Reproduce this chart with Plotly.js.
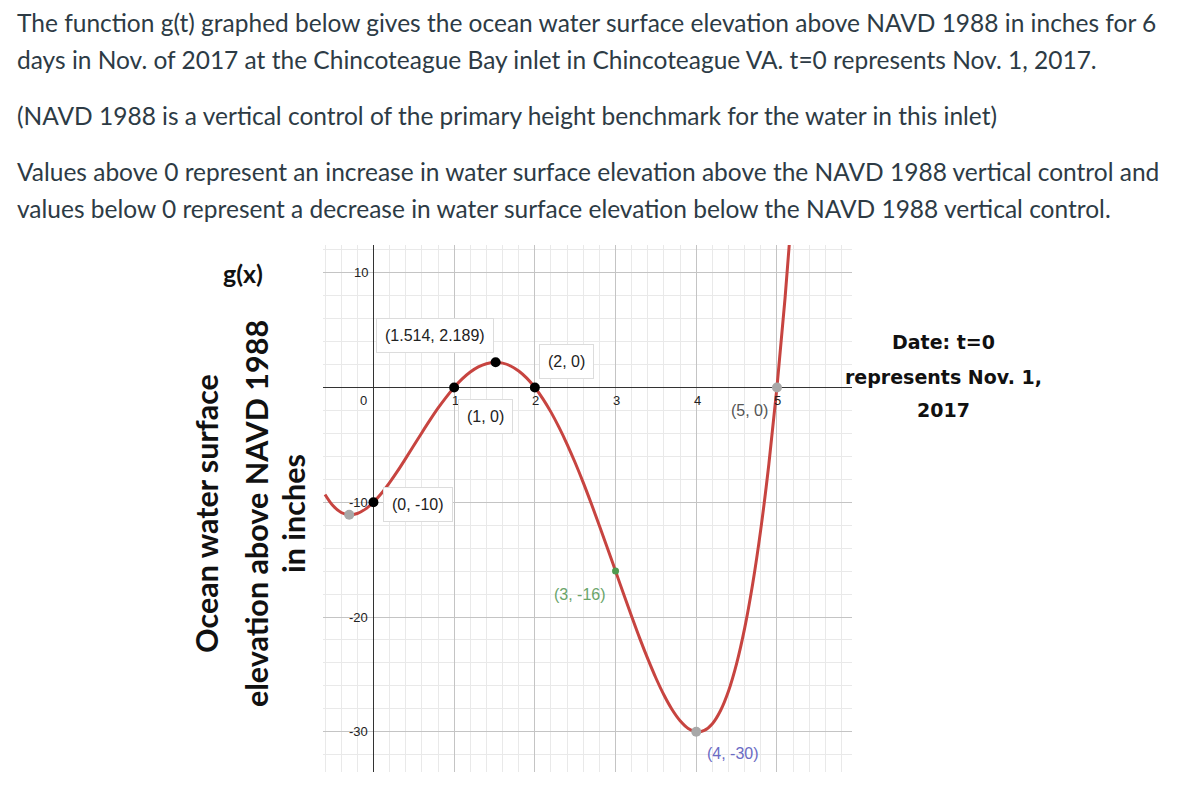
<!DOCTYPE html>
<html>
<head>
<meta charset="utf-8">
<script src="https://cdn.plot.ly/plotly-3.0.1.min.js"></script>
<style>
  html, body { margin: 0; padding: 0; background: #fff; }
  #chart { width: 1200px; height: 811px; }
</style>
</head>
<body>
<div id="chart"></div>
<script>
// ---- Data ----
const curveT = [-0.6,-0.5,-0.4,-0.3,-0.2,-0.1,0,0.1,0.2,0.3,0.4,0.5,0.6,0.7,0.8,0.9,1,1.1,1.2,1.3,1.4,1.5,1.6,1.7,1.8,1.9,2,2.1,2.2,2.3,2.4,2.5,2.6,2.7,2.8,2.9,3,3.1,3.2,3.3,3.4,3.5,3.6,3.7,3.8,3.9,4,4.1,4.2,4.3,4.4,4.5,4.6,4.7,4.8,4.9,5,5.1,5.2];
const curveG = [-9.32,-10.31,-10.89,-11.09,-10.98,-10.60,-10,-9.22,-8.29,-7.27,-6.18,-5.06,-3.94,-2.85,-1.81,-0.86,0,0.74,1.34,1.79,2.07,2.19,2.12,1.87,1.43,0.81,0,-0.99,-2.15,-3.48,-4.95,-6.56,-8.29,-10.13,-12.04,-14.0,-16,-18.0,-19.96,-21.86,-23.65,-25.31,-26.79,-28.05,-29.03,-29.70,-30,-29.88,-29.29,-28.16,-26.44,-24.06,-20.97,-17.08,-12.34,-6.67,0,7.75,16.67];

const blackT = [0, 1, 1.514, 2];
const blackG = [-10, 0, 2.189, 0];
const greyT = [-0.3, 5, 4];
const greyG = [-11.09, 0, -30];
const greenT = [3];
const greenG = [-16];

const xTickVals = [0, 1, 2, 3, 4, 5];
const xTickText = ['0', '1', '2', '3', '4', '5'];
const yTickVals = [10, -10, -20, -30];
const yTickText = ['10', '-10', '-20', '-30'];

const introLines = [
  'The function g(t) graphed below gives the ocean water surface elevation above NAVD 1988 in inches for 6',
  'days in Nov. of 2017 at the Chincoteague Bay inlet in Chincoteague VA. t=0 represents Nov. 1, 2017.',
  '(NAVD 1988 is a vertical control of the primary height benchmark for the water in this inlet)',
  'Values above 0 represent an increase in water surface elevation above the NAVD 1988 vertical control and',
  'values below 0 represent a decrease in water surface elevation below the NAVD 1988 vertical control.'
];
const introY = [22, 60, 115, 171, 209];
const yTitleLines = ['Ocean water surface', 'elevation above NAVD 1988', 'in inches'];
const dateLines = ['Date: t=0', 'represents Nov. 1,', '2017'];

// ---- Layout helpers (page pixels -> paper coords) ----
const PL = 323, PR = 852, PT = 245, PB = 772;
const px = v => (v - PL) / (PR - PL);
const py = v => (PB - v) / (PB - PT);

const annotations = [];

// intro paragraphs
introLines.forEach((t, i) => annotations.push({
  xref: 'paper', yref: 'paper', x: px(15), y: py(introY[i]),
  xanchor: 'left', yanchor: 'middle', showarrow: false, align: 'left',
  text: t, font: {family: 'Lato', size: 24.5, color: '#2d3b45'}
}));

// y title pieces
annotations.push({
  xref: 'paper', yref: 'paper', x: px(243), y: py(273), showarrow: false,
  xanchor: 'center', yanchor: 'middle', text: '<b>g(x)</b>',
  font: {family: 'Lato', size: 25, color: '#111'}
});
const yTitleX = [206, 256, 293];
yTitleLines.forEach((t, i) => annotations.push({
  xref: 'paper', yref: 'paper', x: px(yTitleX[i]), y: py(514), showarrow: false,
  xanchor: 'center', yanchor: 'middle', textangle: -90, text: '<b>' + t + '</b>',
  font: {family: 'Lato', size: 30.5, color: '#111'}
}));

// date note
const dateY = [342, 377, 410];
dateLines.forEach((t, i) => annotations.push({
  xref: 'paper', yref: 'paper', x: px(943), y: py(dateY[i]), showarrow: false,
  xanchor: 'center', yanchor: 'middle', text: '<b>' + t + '</b>',
  font: {family: 'DejaVu Sans', size: 19, color: '#111'}
}));

// axis tick labels (Desmos style, beside the axes)
xTickVals.forEach((v, i) => annotations.push({
  xref: 'x', yref: 'y', x: v, y: 0, showarrow: false,
  xanchor: 'center', yanchor: 'top', xshift: v === 0 ? -10 : 1, yshift: -4,
  text: xTickText[i], font: {family: 'Arial', size: 13, color: '#222'}
}));
yTickVals.forEach((v, i) => annotations.push({
  xref: 'x', yref: 'y', x: 0, y: v, showarrow: false,
  xanchor: 'right', yanchor: 'middle', xshift: -3,
  text: yTickText[i], font: {family: 'Arial', size: 13, color: '#222'}
}));

// point labels
const fmt = (x, y) => '(' + x + ', ' + y + ')';
const boxed = {bgcolor: '#ffffff', bordercolor: '#dcdcdc', borderwidth: 1, borderpad: 8};
const pointLabels = [
  {x: blackT[2], y: blackG[2], dx: -61, dy: 27, color: '#222', box: true},
  {x: blackT[3], y: blackG[3], dx: 32, dy: 26, color: '#222', box: true},
  {x: blackT[1], y: blackG[1], dx: 31, dy: -29, color: '#222', box: true},
  {x: blackT[0], y: blackG[0], dx: 45, dy: -2, color: '#222', box: true},
  {x: greyT[1], y: greyG[1], dx: -27, dy: -23, color: '#555', box: false},
  {x: greenT[0], y: greenG[0], dx: -36, dy: -23, color: '#6aa56a', box: false},
  {x: greyT[2], y: greyG[2], dx: 37, dy: -22, color: '#6b6bc4', box: false}
];
pointLabels.forEach(p => annotations.push(Object.assign({
  xref: 'x', yref: 'y', x: p.x, y: p.y, showarrow: false,
  xanchor: 'center', yanchor: 'middle', xshift: p.dx, yshift: p.dy,
  text: fmt(p.x, p.y), font: {family: 'Arial', size: 16, color: p.color}
}, p.box ? boxed : {})));

const traces = [
  {x: curveT, y: curveG, type: 'scatter', mode: 'lines', line: {color: '#c74440', width: 3, shape: 'spline'}, hoverinfo: 'skip'},
  {x: greyT, y: greyG, type: 'scatter', mode: 'markers', marker: {color: '#a8a8a8', size: 10}, hoverinfo: 'skip'},
  {x: greenT, y: greenG, type: 'scatter', mode: 'markers', marker: {color: '#4f9a4f', size: 7}, hoverinfo: 'skip'},
  {x: blackT, y: blackG, type: 'scatter', mode: 'markers', marker: {color: '#000000', size: 10}, hoverinfo: 'skip'}
];

const layout = {
  width: 1200, height: 811,
  margin: {l: PL, r: 1200 - PR, t: PT, b: 811 - PB, pad: 0},
  paper_bgcolor: '#ffffff', plot_bgcolor: '#ffffff',
  showlegend: false,
  xaxis: {
    range: [-0.625, 5.93], dtick: 1, tick0: 0,
    showgrid: true, gridcolor: '#c4c4c4', gridwidth: 1,
    minor: {dtick: 0.2, tick0: 0, showgrid: true, gridcolor: '#e9e9e9', gridwidth: 1},
    zeroline: true, zerolinecolor: '#333', zerolinewidth: 1.6,
    showticklabels: false, ticks: '', showline: false, fixedrange: true
  },
  yaxis: {
    range: [-33.5, 12.41], dtick: 10, tick0: 0,
    showgrid: true, gridcolor: '#c4c4c4', gridwidth: 1,
    minor: {dtick: 2, tick0: 0, showgrid: true, gridcolor: '#e9e9e9', gridwidth: 1},
    zeroline: true, zerolinecolor: '#333', zerolinewidth: 1.6,
    showticklabels: false, ticks: '', showline: false, fixedrange: true
  },
  annotations: annotations
};

Plotly.newPlot('chart', traces, layout, {displayModeBar: false, staticPlot: true});
</script>
</body>
</html>
